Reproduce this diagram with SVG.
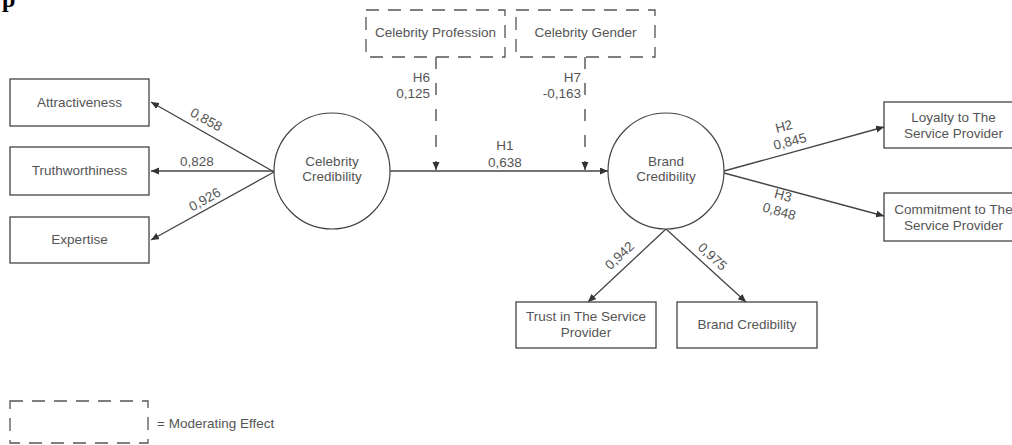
<svg xmlns="http://www.w3.org/2000/svg" width="1012" height="445" viewBox="0 0 1012 445">
<defs>
<marker id="ah" markerUnits="userSpaceOnUse" markerWidth="9" markerHeight="8" refX="8" refY="3.5" orient="auto">
<path d="M0,0 L8,3.5 L0,7 z" fill="#333"/>
</marker>
<style>
.box{fill:#fff;stroke:#444;stroke-width:1.3}
.dbox{fill:#fff;stroke:#555;stroke-width:1.3;stroke-dasharray:13 9}
.lv{fill:#fff;stroke:#444;stroke-width:1.2}
.t{font-family:"Liberation Sans",Arial,sans-serif;font-size:13.5px;fill:#555;text-anchor:middle}
.e{stroke:#444;stroke-width:1.3;fill:none;marker-end:url(#ah)}
.d{stroke:#444;stroke-width:1.3;fill:none;stroke-dasharray:12 14;marker-end:url(#ah)}
.lab{font-family:"Liberation Sans",Arial,sans-serif;font-size:13.5px;fill:#555;text-anchor:middle}
.end{text-anchor:end}
</style>
</defs>
<rect width="1012" height="445" fill="#fff"/>
<text x="2" y="7" font-family="'Liberation Serif',serif" font-weight="bold" font-size="24" fill="#000">p</text>

<g id="connectors">
<line class="e" x1="274" y1="172" x2="151" y2="102"/>
<line class="e" x1="274" y1="171" x2="151" y2="171"/>
<line class="e" x1="274" y1="172" x2="151" y2="240"/>
<line class="e" x1="390" y1="171" x2="608" y2="171"/>
<line class="d" x1="436" y1="57" x2="436" y2="170"/>
<line class="d" x1="585" y1="57" x2="585" y2="170"/>
<line class="e" x1="724" y1="171" x2="884" y2="127"/>
<line class="e" x1="724" y1="173" x2="884" y2="216"/>
<line class="e" x1="666" y1="229" x2="588" y2="302"/>
<line class="e" x1="666" y1="229" x2="746" y2="302"/>
<text class="lab" transform="translate(206,120) rotate(29.6)" y="4">0,858</text>
<text class="lab" x="197" y="166">0,828</text>
<text class="lab" transform="translate(205,200) rotate(-29.6)" y="4">0,926</text>
<text class="lab end" x="430" y="82">H6</text>
<text class="lab end" x="430" y="98">0,125</text>
<text class="lab end" x="581" y="82">H7</text>
<text class="lab end" x="581" y="98">-0,163</text>
<text class="lab" x="505" y="150">H1</text>
<text class="lab" x="505" y="167">0,638</text>
<text class="lab" transform="translate(784,127) rotate(-14.4)" y="4">H2</text>
<text class="lab" transform="translate(790,142) rotate(-14.4)" y="4">0,845</text>
<text class="lab" transform="translate(783,196) rotate(15.4)" y="4">H3</text>
<text class="lab" transform="translate(779,212) rotate(15.4)" y="4">0,848</text>
<text class="lab" transform="translate(620,256) rotate(-43)" y="4">0,942</text>
<text class="lab" transform="translate(712,257) rotate(43)" y="4">0,975</text>
</g>

<g id="attractiveness">
<rect class="box" x="10" y="79" width="139" height="47"/>
<text class="t" x="79.5" y="107">Attractiveness</text>
</g>
<g id="truthworthiness">
<rect class="box" x="10" y="147" width="139" height="48"/>
<text class="t" x="79.5" y="175">Truthworthiness</text>
</g>
<g id="expertise">
<rect class="box" x="10" y="217" width="139" height="46"/>
<text class="t" x="79.5" y="244">Expertise</text>
</g>
<g id="celebrity-credibility">
<circle class="lv" cx="332" cy="171" r="58"/>
<text class="t" x="332" y="166">Celebrity</text>
<text class="t" x="332" y="181">Credibility</text>
</g>
<g id="celebrity-profession">
<rect class="dbox" x="366" y="10" width="139" height="47"/>
<text class="t" x="435.5" y="37">Celebrity Profession</text>
</g>
<g id="celebrity-gender">
<rect class="dbox" x="516" y="10" width="139" height="47"/>
<text class="t" x="585.5" y="37">Celebrity Gender</text>
</g>
<g id="brand-credibility-lv">
<circle class="lv" cx="666" cy="171" r="58"/>
<text class="t" x="666" y="166">Brand</text>
<text class="t" x="666" y="181">Credibility</text>
</g>
<g id="loyalty">
<rect class="box" x="884" y="102" width="139" height="46"/>
<text class="t" x="953.5" y="122">Loyalty to The</text>
<text class="t" x="953.5" y="138">Service Provider</text>
</g>
<g id="commitment">
<rect class="box" x="884" y="193" width="139" height="48"/>
<text class="t" x="953.5" y="214">Commitment to The</text>
<text class="t" x="953.5" y="230">Service Provider</text>
</g>
<g id="trust">
<rect class="box" x="516" y="302" width="140" height="46"/>
<text class="t" x="586" y="321">Trust in The Service</text>
<text class="t" x="586" y="337">Provider</text>
</g>
<g id="brand-credibility-box">
<rect class="box" x="677" y="302" width="140" height="46"/>
<text class="t" x="747" y="329">Brand Credibility</text>
</g>
<g id="legend">
<rect class="dbox" x="10" y="401" width="138" height="42"/>
<text class="t" x="157" y="428" style="text-anchor:start">= Moderating Effect</text>
</g>
</svg>
